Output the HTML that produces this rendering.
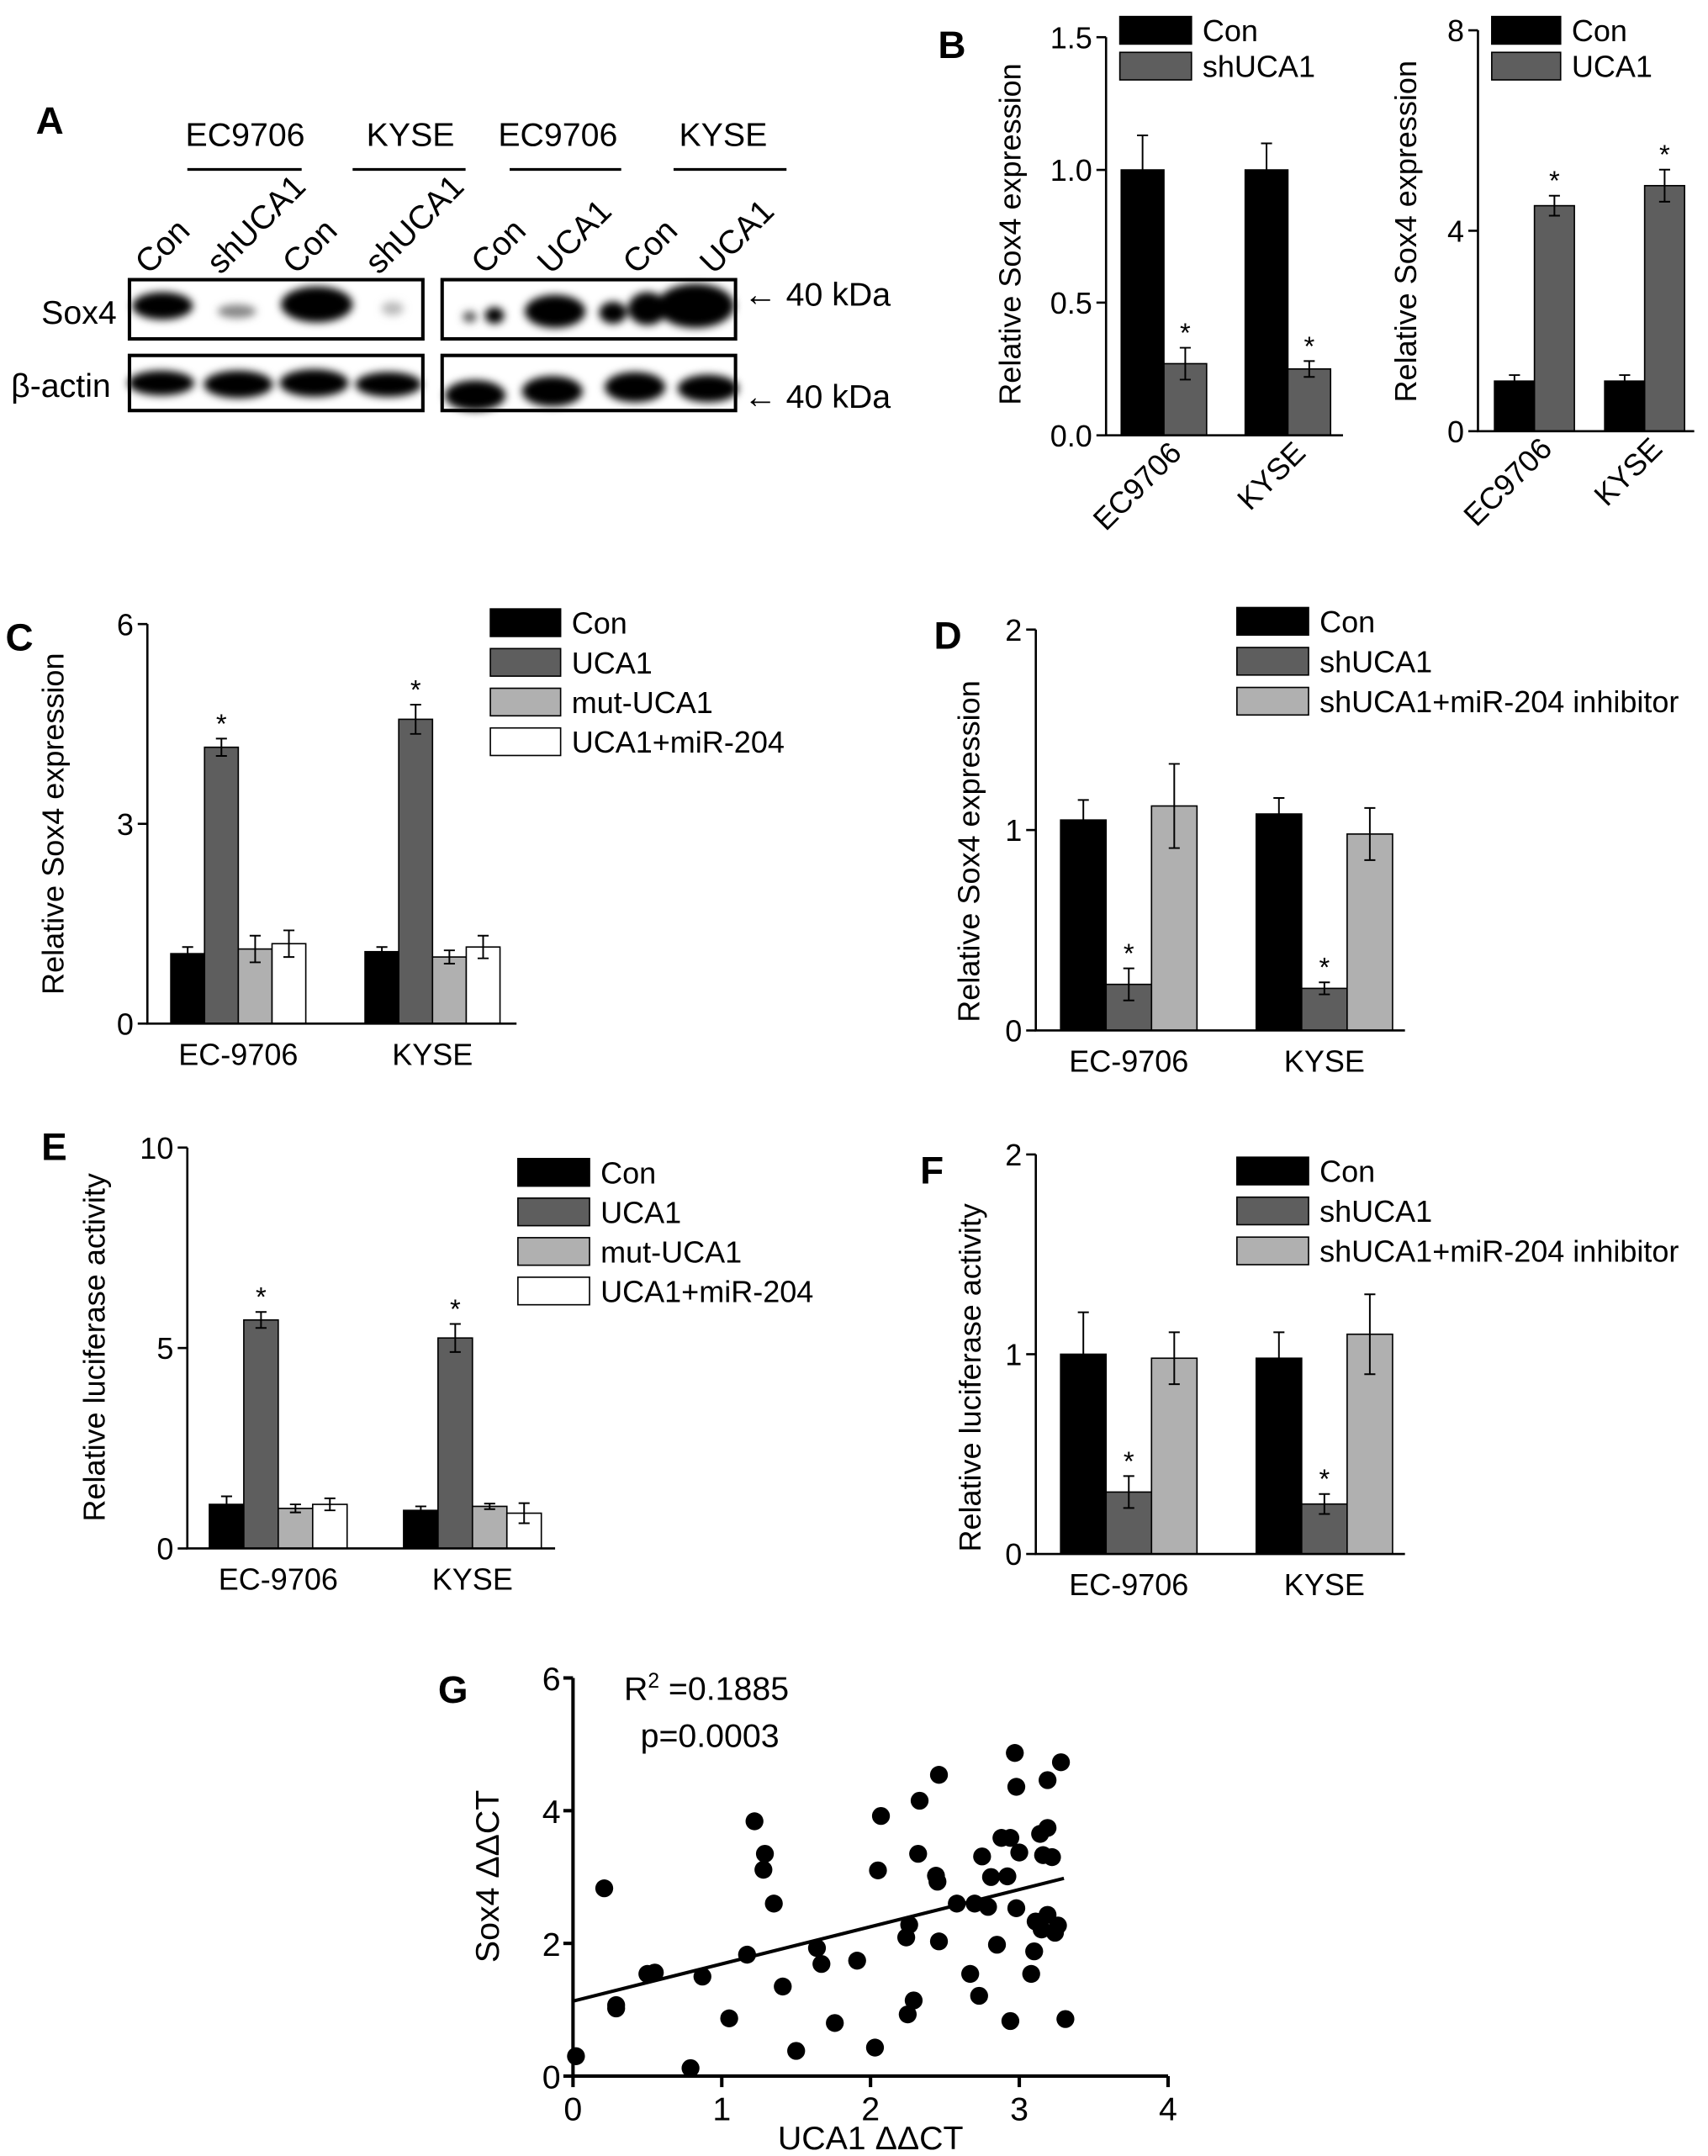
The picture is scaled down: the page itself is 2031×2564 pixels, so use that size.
<!DOCTYPE html>
<html><head><meta charset="utf-8"><style>
html,body{margin:0;padding:0;background:#fff;}
svg{display:block;font-family:"Liberation Sans Narrow","Liberation Sans",sans-serif;}
</style></head><body>
<svg id="fig" width="2031" height="2564" viewBox="0 0 1240 1565" preserveAspectRatio="none" xmlns="http://www.w3.org/2000/svg">
<defs><filter id="blur" x="-30%" y="-60%" width="160%" height="220%"><feGaussianBlur stdDeviation="3"/></filter></defs>
<g>
<text x="26" y="97" font-size="28" font-weight="bold" font-family="Liberation Sans,sans-serif">A</text>
<g font-size="24" text-anchor="middle">
<text x="178" y="106">EC9706</text>
<text x="298" y="106">KYSE</text>
<text x="405" y="106">EC9706</text>
<text x="525" y="106">KYSE</text>
</g>
<g stroke="#000" stroke-width="2">
<line x1="136" y1="123" x2="219" y2="123"/><line x1="256" y1="123" x2="338" y2="123"/>
<line x1="370" y1="123" x2="451" y2="123"/><line x1="489" y1="123" x2="571" y2="123"/>
</g>
<g font-size="24">
<text transform="translate(108,200) rotate(-45)">Con</text>
<text transform="translate(160,200) rotate(-45)">shUCA1</text>
<text transform="translate(215,200) rotate(-45)">Con</text>
<text transform="translate(275,200) rotate(-45)">shUCA1</text>
<text transform="translate(352,200) rotate(-45)">Con</text>
<text transform="translate(400,200) rotate(-45)">UCA1</text>
<text transform="translate(462,200) rotate(-45)">Con</text>
<text transform="translate(518,200) rotate(-45)">UCA1</text>
</g>
<text x="30" y="235" font-size="24">Sox4</text>
<text x="8" y="288" font-size="24">β-actin</text>
<g filter="url(#blur)" fill="#000">
<ellipse cx="118" cy="222" rx="22" ry="10"/><ellipse cx="172" cy="226" rx="14" ry="5" fill="#888"/>
<ellipse cx="230" cy="221" rx="26" ry="13"/><ellipse cx="285" cy="224" rx="8" ry="5" fill="#bbb"/>
<ellipse cx="341" cy="230" rx="5" ry="4" fill="#555"/><ellipse cx="359" cy="229" rx="7" ry="6"/>
<ellipse cx="403" cy="226" rx="22" ry="12"/><ellipse cx="445" cy="227" rx="10" ry="8"/><ellipse cx="470" cy="224" rx="14" ry="12"/>
<ellipse cx="505" cy="222" rx="28" ry="16"/>
<ellipse cx="117" cy="278" rx="24" ry="9"/><ellipse cx="173" cy="279" rx="25" ry="10"/><ellipse cx="228" cy="278" rx="25" ry="10"/><ellipse cx="282" cy="279" rx="24" ry="9"/>
<ellipse cx="345" cy="287" rx="22" ry="11"/><ellipse cx="401" cy="284" rx="22" ry="11"/><ellipse cx="461" cy="281" rx="22" ry="11"/><ellipse cx="514" cy="282" rx="22" ry="10"/>
</g>
<g fill="none" stroke="#000" stroke-width="2.5">
<rect x="94" y="203" width="213" height="43"/>
<rect x="321" y="203" width="213" height="43"/>
<rect x="94" y="258" width="213" height="40"/>
<rect x="321" y="258" width="213" height="40"/>
</g>
<g font-size="24">
<text x="540" y="222">← 40 kDa</text>
<text x="540" y="296">← 40 kDa</text>
</g>
</g>
<g id="charts"></g>
</svg>
<script>
// ===== Data =====
const bCats = ["EC9706","KYSE"];
const bLeftSeries = ["Con","shUCA1"];
const bLeftVals = [[1.0,0.27],[1.0,0.25]];
const bLeftErr = [[0.13,0.06],[0.1,0.03]];
const bLeftStar = [[false,true],[false,true]];
const bLeftTicks = [0,0.5,1.0,1.5];
const bLeftTickLabels = ["0.0","0.5","1.0","1.5"];

const bRightSeries = ["Con","UCA1"];
const bRightVals = [[1.0,4.5],[1.0,4.9]];
const bRightErr = [[0.12,0.2],[0.12,0.32]];
const bRightStar = [[false,true],[false,true]];
const bRightTicks = [0,4,8];

const cCats = ["EC-9706","KYSE"];
const cSeries = ["Con","UCA1","mut-UCA1","UCA1+miR-204"];
const cVals = [[1.05,4.15,1.12,1.2],[1.08,4.57,1.0,1.15]];
const cErr = [[0.1,0.13,0.2,0.2],[0.07,0.22,0.1,0.17]];
const cStar = [[false,true,false,false],[false,true,false,false]];
const cTicks = [0,3,6];

const dCats = ["EC-9706","KYSE"];
const dSeries = ["Con","shUCA1","shUCA1+miR-204 inhibitor"];
const dVals = [[1.05,0.23,1.12],[1.08,0.21,0.98]];
const dErr = [[0.1,0.08,0.21],[0.08,0.03,0.13]];
const dStar = [[false,true,false],[false,true,false]];
const dTicks = [0,1,2];

const eCats = ["EC-9706","KYSE"];
const eSeries = ["Con","UCA1","mut-UCA1","UCA1+miR-204"];
const eVals = [[1.1,5.7,1.0,1.1],[0.95,5.25,1.05,0.88]];
const eErr = [[0.2,0.2,0.1,0.15],[0.1,0.35,0.07,0.25]];
const eStar = [[false,true,false,false],[false,true,false,false]];
const eTicks = [0,5,10];

const fCats = ["EC-9706","KYSE"];
const fSeries = ["Con","shUCA1","shUCA1+miR-204 inhibitor"];
const fVals = [[1.0,0.31,0.98],[0.98,0.25,1.1]];
const fErr = [[0.21,0.08,0.13],[0.13,0.05,0.2]];
const fStar = [[false,true,false],[false,true,false]];
const fTicks = [0,1,2];

const gX = [0.02,0.21,0.29,0.29,0.50,0.55,0.87,0.79,1.05,1.17,1.22,1.29,1.28,1.35,1.41,1.50,1.64,1.67,1.76,1.91,2.03,2.07,2.05,2.25,2.29,2.24,2.26,2.33,2.32,2.46,2.44,2.45,2.46,2.58,2.67,2.73,2.70,2.79,2.75,2.81,2.85,2.88,2.94,2.92,2.94,2.97,2.98,2.98,3.00,3.08,3.10,3.11,3.14,3.15,3.19,3.19,3.19,3.16,3.22,3.24,3.26,3.28,3.31];
const gY = [0.30,2.83,1.07,1.02,1.54,1.56,1.50,0.12,0.87,1.83,3.84,3.35,3.11,2.60,1.35,0.38,1.93,1.69,0.80,1.74,0.43,3.92,3.10,0.93,1.14,2.09,2.28,4.15,3.35,4.54,3.02,2.93,2.03,2.60,1.54,1.21,2.60,2.55,3.31,3.00,1.98,3.59,3.59,3.01,0.83,4.87,4.36,2.53,3.37,1.54,1.88,2.33,3.65,2.21,4.46,3.74,2.43,3.33,3.30,2.16,2.27,4.73,0.86];
const gFitX = [0,3.3];
const gFitY = [1.13,2.98];
const gTicksY = [0,2,4,6];
const gTicksX = [0,1,2,3,4];

const NS = "http://www.w3.org/2000/svg";
const root = document.getElementById("charts");
function mk(tag, attrs, parent, text){
  const e = document.createElementNS(NS, tag);
  for (const k in attrs) e.setAttribute(k, attrs[k]);
  if (text !== undefined) e.textContent = text;
  (parent||root).appendChild(e);
  return e;
}
const FILLS = ["#000","#5e5e5e","#b0b0b0","#fff"];

function barChart(o){
  const g = mk("g", {});
  
  
  const ymax = o.ticks[o.ticks.length-1];
  const sy = v => o.y0 - (v/ymax)*(o.y0-o.yTop);
  // bars
  o.vals.forEach((grp, ci) => {
    grp.forEach((v, si) => {
      const x = o.groupX[ci] + si*o.bw;
      const r = mk("rect", {x:x, y:sy(v), width:o.bw, height:o.y0-sy(v), fill:FILLS[si], stroke:"#000", "stroke-width":1}, g);
      
      
      const cx = x + o.bw/2, e = o.err[ci][si];
      const eb = mk("path", {d:`M${cx},${sy(v)} V${sy(v+e)} M${cx-4},${sy(v+e)} H${cx+4} M${cx},${sy(v)} V${sy(Math.max(0,v-e))} M${cx-4},${sy(Math.max(0,v-e))} H${cx+4}`, stroke:"#000", "stroke-width":1.2, fill:"none"}, g);
      
      
      if (o.star[ci][si]) {
        const s = mk("text", {x:cx, y:sy(v+e)-4, "font-size":20, "text-anchor":"middle"}, g, "*");
        
        
      }
    });
  });
  // axes
  const ax = mk("path", {d:`M${o.ax},${o.yTop} V${o.y0} H${o.xEnd}`, stroke:"#000", "stroke-width":1.6, fill:"none"}, g);
  
  
  o.ticks.forEach((t, i) => {
    mk("line", {x1:o.ax-7, x2:o.ax, y1:sy(t), y2:sy(t), stroke:"#000", "stroke-width":1.6}, g);
    const tl = mk("text", {x:o.ax-10, y:sy(t)+8, "font-size":22, "text-anchor":"end"}, g, o.tickLabels ? o.tickLabels[i] : String(t));
    
    
  });
  // category labels
  o.cats.forEach((c, ci) => {
    const cx = o.groupX[ci] + o.bw*o.series.length/2;
    let t;
    if (o.rotate) t = mk("text", {transform:`translate(${cx+14},${o.y0+14}) rotate(-45)`, "font-size":22, "text-anchor":"end"}, g, c);
    else t = mk("text", {x:cx, y:o.y0+30, "font-size":22, "text-anchor":"middle"}, g, c);
    
    
  });
  const yt = mk("text", {transform:`translate(${o.titleX},${o.titleY}) rotate(-90)`, "font-size":22, "text-anchor":"middle"}, g, o.title);
  
  
  // legend
  o.series.forEach((s, si) => {
    const ly = o.legY + si*o.legDy;
    const lg = mk("g", {}, g);
    
    
    mk("rect", {x:o.legX, y:ly-10, width:o.legW, height:20, fill:FILLS[si], stroke:"#000", "stroke-width":1}, lg);
    mk("text", {x:o.legX+o.legW+8, y:ly+8, "font-size":22}, lg, s);
  });
  const pl = mk("text", {x:o.lx, y:o.ly, "font-size":28, "font-weight":"bold", "font-family":"Liberation Sans,sans-serif"}, g, o.label);
  
  
}

barChart({name:"panel-b-left-chart", cats:bCats, series:bLeftSeries, vals:bLeftVals, err:bLeftErr, star:bLeftStar, ticks:bLeftTicks, tickLabels:bLeftTickLabels,
  ax:803, y0:316, yTop:27, xEnd:975, groupX:[814,904], bw:31, rotate:true, title:"Relative Sox4 expression", titleX:741, titleY:170,
  legX:813, legY:22, legDy:26, legW:52, label:"B", lx:681, ly:42});
barChart({name:"panel-b-right-chart", cats:bCats, series:bRightSeries, vals:bRightVals, err:bRightErr, star:bRightStar, ticks:bRightTicks,
  ax:1073, y0:313, yTop:22, xEnd:1230, groupX:[1085,1165], bw:29, rotate:true, title:"Relative Sox4 expression", titleX:1028, titleY:168,
  legX:1083, legY:22, legDy:26, legW:50, label:"", lx:0, ly:0});
barChart({name:"panel-c-chart", cats:cCats, series:cSeries, vals:cVals, err:cErr, star:cStar, ticks:cTicks,
  ax:107, y0:743, yTop:453, xEnd:375, groupX:[124,265], bw:24.5, rotate:false, title:"Relative Sox4 expression", titleX:46, titleY:598,
  legX:356, legY:452, legDy:28.8, legW:51, label:"C", lx:4, ly:472});
barChart({name:"panel-d-chart", cats:dCats, series:dSeries, vals:dVals, err:dErr, star:dStar, ticks:dTicks,
  ax:752, y0:748, yTop:457, xEnd:1020, groupX:[770,912], bw:33, rotate:false, title:"Relative Sox4 expression", titleX:711, titleY:618,
  legX:898, legY:451, legDy:29, legW:52, label:"D", lx:678, ly:471});
barChart({name:"panel-e-chart", cats:eCats, series:eSeries, vals:eVals, err:eErr, star:eStar, ticks:eTicks,
  ax:136, y0:1124, yTop:833, xEnd:403, groupX:[152,293], bw:25, rotate:false, title:"Relative luciferase activity", titleX:76, titleY:978,
  legX:376, legY:851, legDy:28.7, legW:52, label:"E", lx:30, ly:842});
barChart({name:"panel-f-chart", cats:fCats, series:fSeries, vals:fVals, err:fErr, star:fStar, ticks:fTicks,
  ax:752, y0:1128, yTop:838, xEnd:1020, groupX:[770,912], bw:33, rotate:false, title:"Relative luciferase activity", titleX:712, titleY:1000,
  legX:898, legY:850, legDy:29, legW:52, label:"F", lx:668, ly:859});

// Scatter G
(function(){
  const g = mk("g", {});
  
  
  const X0 = 416, X1 = 848, Y0 = 1507, Y1 = 1218;
  const sx = v => X0 + v/4*(X1-X0);
  const sy = v => Y0 - v/6*(Y0-Y1);
  const ax = mk("path", {d:`M${X0},${Y1} V${Y0} H${X1}`, stroke:"#000", "stroke-width":2.5, fill:"none"}, g);
  
  
  gTicksY.forEach(t => {
    mk("line", {x1:X0-7, x2:X0, y1:sy(t), y2:sy(t), stroke:"#000", "stroke-width":2.5}, g);
    const tl = mk("text", {x:X0-9, y:sy(t)+9, "font-size":24, "text-anchor":"end"}, g, String(t));
    
    
  });
  gTicksX.forEach(t => {
    mk("line", {x1:sx(t), x2:sx(t), y1:Y0, y2:Y0+8, stroke:"#000", "stroke-width":2.5}, g);
    const tl = mk("text", {x:sx(t), y:Y0+32, "font-size":24, "text-anchor":"middle"}, g, String(t));
    
    
  });
  gX.forEach((x, i) => {
    const c = mk("circle", {cx:sx(x), cy:sy(gY[i]), r:6.5, fill:"#000"}, g);
    
    
  });
  const fl = mk("line", {x1:sx(gFitX[0]), y1:sy(gFitY[0]), x2:sx(gFitX[1]), y2:sy(gFitY[1]), stroke:"#000", "stroke-width":2.5}, g);
  
  
  const r2 = mk("text", {x:453, y:1234, "font-size":24}, g);
  
  
  r2.innerHTML = 'R<tspan font-size="15" dy="-9">2</tspan><tspan dy="9"> =0.1885</tspan>';
  const p = mk("text", {x:465, y:1268, "font-size":24}, g, "p=0.0003");
  
  
  const yt = mk("text", {transform:"translate(362,1362) rotate(-90)", "font-size":24, "text-anchor":"middle"}, g, "Sox4 ΔΔCT");
  
  
  const xt = mk("text", {x:632, y:1560, "font-size":24, "text-anchor":"middle"}, g, "UCA1 ΔΔCT");
  
  
  const pl = mk("text", {x:318, y:1236, "font-size":28, "font-weight":"bold", "font-family":"Liberation Sans,sans-serif"}, g, "G");
  
  
})();
</script>
</body></html>
